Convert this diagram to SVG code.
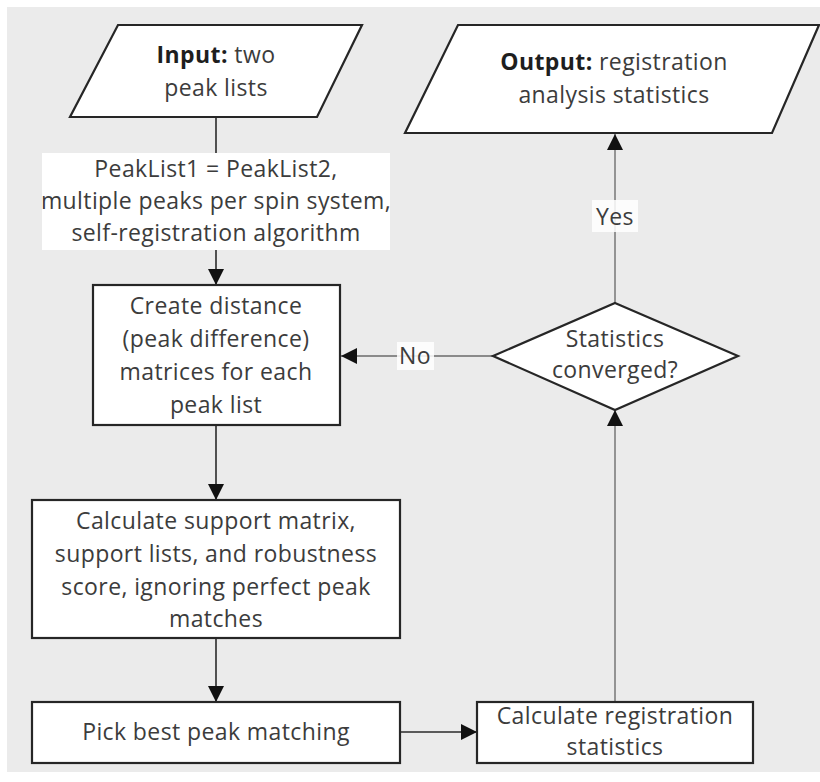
<svg xmlns="http://www.w3.org/2000/svg" width="820" height="782" viewBox="0 0 820 782">
  <style>
    .shape { fill: #ffffff; stroke: #262626; stroke-width: 2.2; }
    .txt { font-family: "Open Sans", "Liberation Sans", sans-serif; font-size: 23px; letter-spacing: 0.4px; fill: #3c3c3c; text-anchor: middle; }
    .b { font-weight: bold; fill: #1e1e1e; }
    .edge { fill: none; stroke: #2a2a2a; stroke-width: 1.6; }
    .edge-l { fill: none; stroke: #8a8a8a; stroke-width: 1.8; }
    .lbl-bg { fill: #ffffff; }
  </style>
  <defs>
    <marker id="arrow" viewBox="0 0 10 10" refX="10" refY="5" markerWidth="16" markerHeight="16" markerUnits="userSpaceOnUse" orient="auto">
      <path d="M0,0 L10,5 L0,10 Z" fill="#111111"/>
    </marker>
  </defs>

  <!-- page background -->
  <rect x="0" y="0" width="820" height="782" fill="#ffffff"/>
  <rect x="7" y="7" width="813" height="765" fill="#ebebeb"/>

  <!-- connectors -->
  <g id="connectors">
    <line class="edge" x1="216" y1="117" x2="216" y2="285" marker-end="url(#arrow)"/>
    <line class="edge" x1="216" y1="425" x2="216" y2="500" marker-end="url(#arrow)"/>
    <line class="edge" x1="216" y1="638" x2="216" y2="702" marker-end="url(#arrow)"/>
    <line class="edge" x1="400" y1="732" x2="477" y2="732" marker-end="url(#arrow)"/>
    <line class="edge-l" x1="615" y1="702" x2="615" y2="410" marker-end="url(#arrow)"/>
    <line class="edge-l" x1="493" y1="356" x2="341" y2="356" marker-end="url(#arrow)"/>
    <line class="edge-l" x1="615" y1="303" x2="615" y2="134" marker-end="url(#arrow)"/>
    <!-- edge labels -->
    <rect class="lbl-bg" x="42" y="153" width="348" height="97"/>
    <text class="txt" x="216" y="177">PeakList1 = PeakList2,</text>
    <text class="txt" x="216" y="209">multiple peaks per spin system,</text>
    <text class="txt" x="216" y="241">self-registration algorithm</text>
    <rect class="lbl-bg" x="397" y="342" width="37" height="28" opacity="0.85"/>
    <text class="txt" x="415" y="364">No</text>
    <rect class="lbl-bg" x="592" y="200" width="46" height="32" opacity="0.85"/>
    <text class="txt" x="615" y="225">Yes</text>
  </g>

  <g id="input">
    <polygon class="shape" points="118,25 362,25 317,117 70,117"/>
    <text class="txt" x="216" y="63"><tspan class="b">Input:</tspan> two</text>
    <text class="txt" x="216" y="96">peak lists</text>
  </g>

  <g id="output">
    <polygon class="shape" points="458,25 819,25 772,133 405,133"/>
    <text class="txt" x="614" y="70"><tspan class="b">Output:</tspan> registration</text>
    <text class="txt" x="614" y="103">analysis statistics</text>
  </g>

  <g id="distance">
    <rect class="shape" x="93" y="285" width="247" height="140"/>
    <text class="txt" x="216" y="314">Create distance</text>
    <text class="txt" x="216" y="347">(peak difference)</text>
    <text class="txt" x="216" y="380">matrices for each</text>
    <text class="txt" x="216" y="413">peak list</text>
  </g>

  <g id="support">
    <rect class="shape" x="32" y="500" width="368" height="138"/>
    <text class="txt" x="216" y="529">Calculate support matrix,</text>
    <text class="txt" x="216" y="562">support lists, and robustness</text>
    <text class="txt" x="216" y="595">score, ignoring perfect peak</text>
    <text class="txt" x="216" y="627">matches</text>
  </g>

  <g id="pick">
    <rect class="shape" x="32" y="702" width="368" height="61"/>
    <text class="txt" x="216" y="740">Pick best peak matching</text>
  </g>

  <g id="regstats">
    <rect class="shape" x="477" y="702" width="276" height="61"/>
    <text class="txt" x="615" y="724">Calculate registration</text>
    <text class="txt" x="615" y="755">statistics</text>
  </g>

  <g id="converged">
    <polygon class="shape" points="615,303 738,356 615,410 493,356"/>
    <text class="txt" x="615" y="347">Statistics</text>
    <text class="txt" x="615" y="378">converged?</text>
  </g>
</svg>
